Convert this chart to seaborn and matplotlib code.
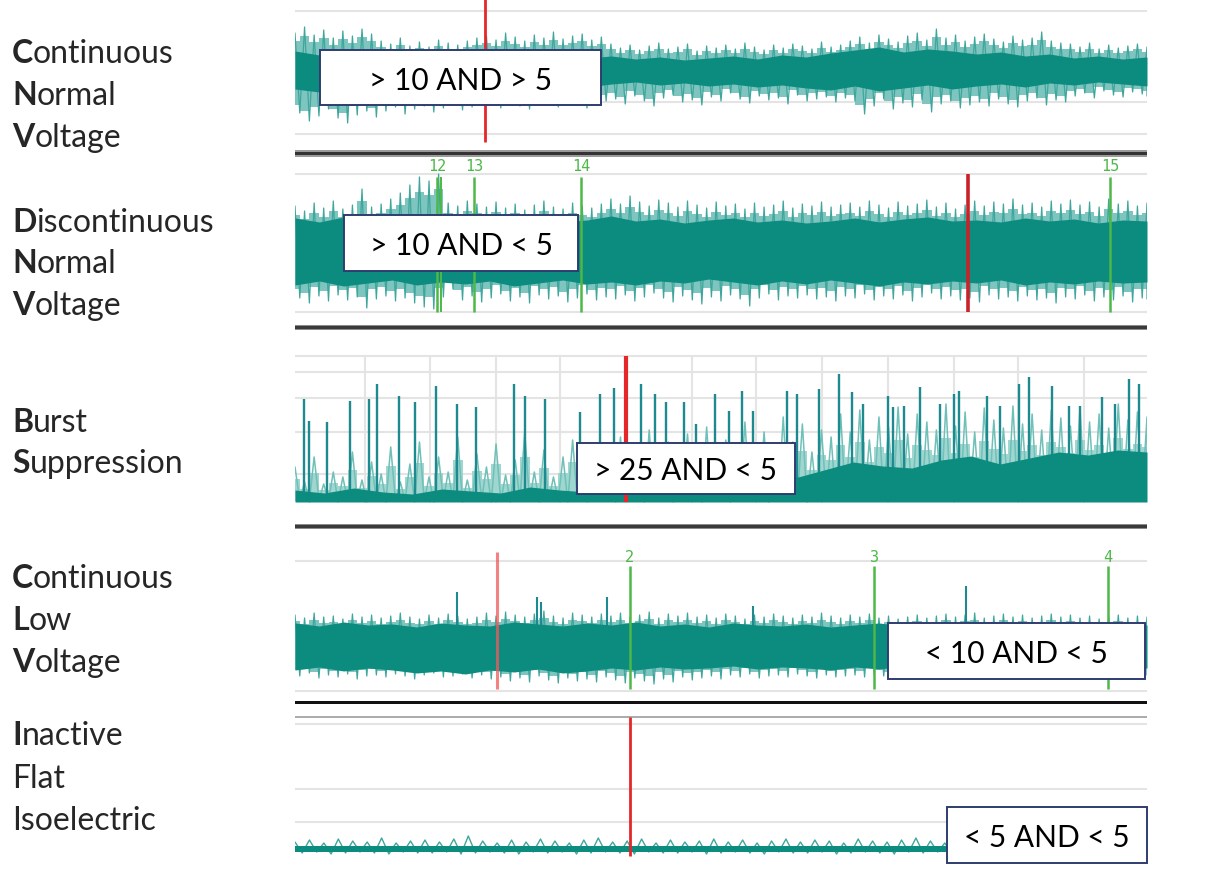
import numpy as np
import pandas as pd
import seaborn as sns
import matplotlib
matplotlib.use("Agg")
import matplotlib.pyplot as plt
from matplotlib.patches import Rectangle

sns.set_theme(style="white")
plt.rcParams['font.family'] = ['Lato', 'DejaVu Sans']

# ---------------------------------------------------------------- data
# x axis of every trace: percent of the displayed sweep (0..100)
# amplitudes: arbitrary units (approx. screen pixels) relative to trace centre

# Continuous Normal Voltage
cnv_upper = [38, 44, 36, 41, 33, 40, 35, 42, 37,
             30, 27, 33, 25, 29, 24, 31, 28, 26, 30, 33,
             35, 31, 38, 34, 30, 36, 33, 39, 32, 35, 37, 31, 34,
             27, 23, 26, 21, 25, 28, 22, 24, 27, 20, 25, 23, 26, 22, 28, 24, 21, 26, 23, 27, 25, 22, 29, 24, 26,
             30, 34, 28, 36, 32, 29, 35, 38, 31, 42, 33, 36, 30, 34, 37, 32, 29, 35, 31, 33, 39, 30, 28,
             27, 24, 28, 22, 26, 23, 25, 27, 24]
cnv_lower = [-42, -50, -45, -38, -47, -52, -44, -40, -46,
             -40, -36, -43, -38, -35, -41, -37, -33, -39, -36, -34,
             -33, -37, -30, -35, -38, -32, -29, -36, -34, -31, -37, -33, -30,
             -28, -33, -25, -30, -35, -27, -24, -31, -29, -34, -26, -30, -22, -28, -32, -25, -29, -27, -33, -24, -30, -28, -26, -31, -27,
             -30, -43, -35, -28, -38, -32, -36, -29, -41, -33, -30, -37, -34, -31, -35, -28, -33, -36, -30, -27, -34, -29, -31,
             -25, -22, -27, -20, -24, -26, -21, -23, -25]
cnv_core_up = [20, 16, 22, 17, 19, 15, 21, 18, 16, 19, 14, 17, 13, 15, 12, 14, 11, 13,
               15, 12, 16, 14, 18, 21, 24, 19, 22, 20, 17, 19, 15, 17, 13, 15, 12, 14]
cnv_core_lo = [-18, -21, -16, -19, -15, -17, -14, -18, -13, -16, -15, -12, -16, -13, -11, -14, -12, -15,
               -13, -16, -14, -17, -19, -15, -20, -17, -14, -18, -15, -13, -16, -12, -14, -11, -13, -15]

# Discontinuous Normal Voltage
dnv_upper = [45, 40, 48, 43, 50, 42, 46, 62, 44,
             47, 52, 58, 66, 74, 70, 77, 48, 45, 50, 47,
             44, 49, 43, 47, 41, 46, 50, 44, 42, 48, 45, 43, 47,
             52, 47, 55, 49, 45, 51, 48, 44, 50, 46, 43, 49, 45, 47, 42, 48, 44, 46, 50, 43, 47, 45, 49, 44, 46,
             48, 44, 50, 46, 43, 49, 45, 47, 51, 44, 48, 42, 46, 50, 45, 49, 47, 52, 46, 48, 44, 50, 47,
             51, 46, 49, 44, 52, 47, 50, 45, 48]
dnv_lower = [-47, -52, -45, -50, -44, -49, -46, -57, -48,
             -45, -50, -47, -52, -56, -58, -46, -38, -49, -45, -51,
             -47, -43, -50, -46, -52, -44, -48, -45, -51, -47, -43, -49, -46,
             -48, -44, -50, -46, -42, -47, -51, -45, -49, -53, -46, -50, -44, -48, -55, -47, -43, -49, -45, -47, -44, -48, -46, -50, -45,
             -47, -43, -49, -45, -48, -44, -50, -46, -42, -48, -45, -49, -47, -51, -44, -48, -46, -50, -45, -49, -47, -52, -46,
             -48, -44, -50, -46, -49, -45, -51, -47, -48]
dnv_core_up = [33, 29, 34, 30, 35, 31, 29, 33, 30, 34, 32, 29, 31, 35, 30, 32, 28, 31,
               33, 29, 31, 28, 30, 33, 29, 32, 34, 30, 31, 29, 33, 30, 32, 28, 31, 30]
dnv_core_lo = [-34, -30, -35, -32, -29, -34, -31, -33, -30, -35, -32, -29, -33, -31, -34, -30, -32, -28,
               -31, -34, -30, -33, -29, -32, -35, -31, -33, -30, -32, -29, -34, -31, -33, -30, -32, -31]

# Burst Suppression
bs_fringe_up = [35, 20, 45, 18, 30, 25, 50, 22, 40,
                28, 55, 20, 38, 60, 25, 45, 30, 65, 22, 48,
                35, 58, 27, 42, 70, 30, 52, 25, 45, 62, 33, 40, 55,
                38, 65, 30, 50, 72, 42, 60, 35, 68, 48, 75, 40, 62, 55, 80, 45, 70, 52, 85, 60, 78, 50, 72, 65, 88,
                70, 92, 62, 85, 75, 95, 68, 88, 80, 72, 98, 76, 90, 70, 94, 82, 74, 96, 78, 88, 72, 92, 84,
                76, 95, 80, 88, 74, 98, 82, 90, 85]
bs_floor = [1, 0, 2, 1, 0, 1, 2, 0, 1,
            0, 1, 2, 0, 1, 0, 2, 1, 0, 1, 2,
            0, 1, 0, 2, 1, 0, 1, 2, 0, 1, 0, 2, 1,
            0, 2, 1, 0, 1, 3, 0, 2, 1, 0, 3, 1, 0, 2, 4, 1, 0, 3, 1, 5, 0, 2, 4, 1, 3,
            5, 2, 6, 1, 4, 7, 2, 5, 3, 6, 1, 4, 7, 2, 5, 3, 6, 2, 4, 7, 3, 5, 2,
            6, 3, 5, 2, 7, 4, 3, 6, 4]
bs_core = [12, 9, 14, 10, 8, 13, 11, 9, 15, 12, 10, 14, 16, 20, 18, 22, 25, 24, 32, 40,
           36, 34, 42, 46, 38, 44, 50, 47, 52, 50]
bs_spike_pos = [1.0, 1.6, 3.8, 6.5, 8.7, 9.6, 12.2, 14.1, 16.5, 19.0, 21.3, 25.7, 27.0, 29.3,
                33.5, 35.8, 37.4, 40.6, 42.2, 43.5, 45.6, 47.1, 49.3, 50.9, 52.5, 53.8, 57.7,
                58.9, 61.5, 63.8, 65.4, 66.7, 69.6, 70.2, 71.5, 73.3, 75.7, 77.3, 77.9, 81.2,
                82.8, 85.0, 86.2, 88.9, 90.8, 92.1, 94.7, 96.3, 97.9, 99.1]
bs_spike_amp = [103, 81, 80, 101, 103, 118, 106, 100, 116, 98, 95, 118, 106, 103,
                90, 108, 114, 118, 108, 100, 100, 78, 108, 91, 111, 91, 111,
                108, 113, 128, 110, 98, 106, 95, 96, 115, 98, 108, 111, 106,
                96, 118, 125, 116, 96, 96, 105, 98, 123, 118]

# Continuous Low Voltage
clv_upper = [31, 28, 33, 29, 30, 27, 32, 29, 31,
             28, 30, 33, 29, 27, 31, 28, 32, 30, 27, 29,
             33, 30, 34, 31, 29, 32, 35, 30, 28, 33, 31, 29, 32,
             30, 33, 29, 31, 34, 28, 32, 30, 33, 29, 31, 28, 32, 30, 27, 31, 29, 32, 30, 28, 31, 29, 33, 30, 28,
             31, 29, 32, 28, 30, 27, 29, 31, 28, 30, 32, 29, 31, 33, 28, 30, 32, 29, 31, 28, 30, 32, 29,
             31, 28, 30, 27, 29, 31, 28, 30, 29]
clv_lower = [-30, -27, -32, -29, -31, -28, -33, -30, -29,
             -31, -28, -30, -33, -29, -27, -31, -30, -28, -32, -29,
             -33, -31, -35, -32, -36, -30, -34, -37, -32, -35, -33, -36, -31,
             -34, -37, -32, -35, -38, -33, -36, -31, -34, -32, -30, -33, -29, -31, -28, -32, -30, -29, -31, -28, -30, -32, -29, -31, -30,
             -29, -31, -28, -30, -32, -29, -31, -28, -30, -29, -31, -30, -28, -29, -31, -30, -28, -29, -30, -31, -29, -30, -28,
             -30, -29, -31, -28, -30, -29, -31, -30, -29]
clv_core_up = [23, 20, 24, 21, 22, 19, 23, 21, 20, 24, 22, 20, 23, 21, 24, 20, 22, 19,
               23, 21, 20, 22, 19, 21, 23, 20, 22, 21, 19, 22, 20, 23, 21, 20, 22, 21]
clv_core_lo = [-24, -21, -25, -22, -24, -27, -25, -28, -24, -26, -23, -27, -25, -22, -24, -21, -23, -22,
               -20, -23, -21, -22, -24, -21, -23, -20, -22, -21, -23, -20, -22, -21, -23, -22, -20, -22]
clv_spike_pos = [19.0, 28.4, 28.9, 36.6, 53.8, 78.7]
clv_spike_amp = [54, 49, 44, 49, 40, 60]

# Inactive / Flat / Isoelectric
ifi_upper = [7, 9, 6, 10, 8, 7, 11, 6, 8, 9, 7, 10, 13, 8, 6, 9, 7, 10, 8, 6,
             9, 11, 7, 8, 10, 6, 9, 7, 8, 10, 7, 9, 6, 8, 10, 7, 9, 8, 6, 10,
             8, 7, 9, 11, 8, 6, 9, 7, 10, 8, 7, 9, 6, 8, 7, 9, 8, 6, 7, 8]
ifi_lower = [-4, -3, -5, -4, -3, -4, -5, -3, -4, -4, -3, -5, -4, -3, -4, -5, -3, -4, -3, -5,
             -4, -3, -4, -5, -3, -4, -4, -3, -5, -4, -3, -4, -5, -3, -4, -4, -3, -5, -4, -3,
             -4, -5, -3, -4, -3, -5, -4, -3, -4, -4, -3, -5, -4, -3, -4, -5, -3, -4, -3, -4]

# event markers (percent of sweep)
dnv_marks = [16.7, 21.0, 33.6, 95.7]
dnv_mark_labels = ["12", "13", "14", "15"]
clv_marks = [39.3, 68.0, 95.4]
clv_mark_labels = ["2", "3", "4"]
red_events = [22.3, 79.0, 38.9, 23.7, 39.3]

state_labels = [
    [("C", "ontinuous"), ("N", "ormal"), ("V", "oltage")],
    [("D", "iscontinuous"), ("N", "ormal"), ("V", "oltage")],
    [("B", "urst"), ("S", "uppression")],
    [("C", "ontinuous"), ("L", "ow"), ("V", "oltage")],
    [("I", "nactive"), ("", "Flat"), ("", "Isoelectric")],
]
rule_texts = ["> 10 AND > 5", "> 10 AND < 5", "> 25 AND < 5", "< 10 AND < 5", "< 5 AND < 5"]

# ---------------------------------------------------------------- layout
W, H = 1221, 878
fig = plt.figure(figsize=(W / 100, H / 100), dpi=100)
fig.patch.set_facecolor("white")

CORE = "#0C8B7F"
FRINGE = "#3FA69D"
HALO = "#7DC5BE"
LIGHT = "#6FC0B8"
SPIKE = "#1C8A8E"
GRID = "#E4E4E4"
GREEN = "#4DB848"
RED = "#E5262A"


def fx(px):
    return px / W


def fy(py):
    return 1 - py / H


def panel(y0, y1, centre):
    ax = fig.add_axes([fx(295), fy(y1), fx(1147 - 295), (y1 - y0) / H])
    ax.set_xlim(0, 100)
    ax.set_ylim(centre - y1, centre - y0)
    ax.set_axis_off()
    return ax


def zigzag(ax, up, lo, color, lw=1.0, z=2):
    n = len(up)
    xs = np.linspace(0, 100, n)
    step = 100 / (n - 1)
    xl = np.clip(xs + step / 2, 0, 100)
    xz = np.empty(2 * n)
    yz = np.empty(2 * n)
    xz[0::2], xz[1::2] = xs, xl
    yz[0::2], yz[1::2] = up, lo
    df = pd.DataFrame({"t": xz, "v": yz})
    sns.lineplot(data=df, x="t", y="v", ax=ax, color=color, lw=lw,
                 sort=False, estimator=None, zorder=z)
    ax.set_xlabel("")
    ax.set_ylabel("")


def halo(ax, up, lo, color=HALO, k=0.8, z=1):
    # blocky light fringe between the outer peaks (step-wise, one block per sample)
    xs = np.linspace(0, 100, len(up))
    ax.fill_between(xs, np.array(up) * k, np.array(lo) * k, step="mid",
                    color=color, lw=0, zorder=z)


def core(ax, up, lo, color=CORE, z=3):
    xs = np.linspace(0, 100, len(up))
    ax.fill_between(xs, up, lo, color=color, lw=0, zorder=z)


def hgrid(ax, levels, color=GRID, lw=1.5):
    for v in levels:
        ax.axhline(v, color=color, lw=lw, zorder=0)


# panel 1 : CNV
ax1 = panel(0, 150, 72)
hgrid(ax1, [60, -31, -63])
halo(ax1, cnv_upper, cnv_lower)
zigzag(ax1, cnv_upper, cnv_lower, FRINGE, lw=0.9)
core(ax1, cnv_core_up, cnv_core_lo)
ax1.vlines(red_events[0], -71, 72, color=RED, lw=2, zorder=5)

# panel 2 : DNV
ax2 = panel(158, 326, 252)
hgrid(ax2, [77, -61])
halo(ax2, dnv_upper, dnv_lower)
zigzag(ax2, dnv_upper, dnv_lower, FRINGE, lw=0.9)
core(ax2, dnv_core_up, dnv_core_lo)
for m, lab in zip(dnv_marks, dnv_mark_labels):
    ax2.vlines(m, -61, 74, color=GREEN, lw=1.8, zorder=4)
    ax2.text(m, 85, lab, color=GREEN, fontsize=11, ha="center", va="center",
             family=["DejaVu Sans Mono", "DejaVu Sans"])
ax2.vlines(dnv_marks[0] + 0.45, -61, 74, color=GREEN, lw=1.4, zorder=4)
ax2.vlines(red_events[1], -61, 77, color="#C9232A", lw=2.6, zorder=5)

# panel 3 : BS
ax3 = panel(340, 520, 503)
hgrid(ax3, [146, 130, 104, 70, 28])
for v in [8.2, 15.9, 23.6, 31.1, 38.9, 46.6, 54.1, 61.9, 69.6, 77.3, 84.9, 92.6]:
    ax3.axvline(v, ymin=(0 - (-17)) / 180, ymax=(146 + 17) / 180, color=GRID, lw=1.5, zorder=0)
halo(ax3, bs_fringe_up, bs_floor, color="#9FD6D0", k=0.65)
zigzag(ax3, bs_fringe_up, bs_floor, LIGHT, lw=1.1)
ax3.vlines(bs_spike_pos, 0, bs_spike_amp, color=SPIKE, lw=1.7, zorder=3)
core(ax3, bs_core, [0] * len(bs_core))
ax3.vlines(red_events[2], 0, 146, color=RED, lw=3, zorder=5)

# panel 4 : CLV
ax4 = panel(545, 700, 647)
hgrid(ax4, [85, -45])
halo(ax4, clv_upper, clv_lower)
zigzag(ax4, clv_upper, clv_lower, FRINGE, lw=0.9)
ax4.vlines(clv_spike_pos, 0, clv_spike_amp, color=SPIKE, lw=1.5, zorder=2)
core(ax4, clv_core_up, clv_core_lo)
for m, lab in zip(clv_marks, clv_mark_labels):
    ax4.vlines(m, -43, 80, color=GREEN, lw=1.8, zorder=4)
    ax4.text(m, 90, lab, color=GREEN, fontsize=11, ha="center", va="center",
             family=["DejaVu Sans Mono", "DejaVu Sans"])
ax4.vlines(red_events[3], -43, 94, color="#F05A5A", lw=2.2, alpha=0.75, zorder=5)

# panel 5 : IFI
ax5 = panel(712, 870, 850)
hgrid(ax5, [125, 60, 27])
ax5.axhline(132, color="#9C9C9C", lw=1.2, zorder=0)
zigzag(ax5, ifi_upper, ifi_lower, FRINGE, lw=1.0)
core(ax5, [3] * 2, [-3] * 2)
ax5.vlines(red_events[4], -7, 132, color=RED, lw=2, zorder=5)

# separators between the panels
for y0, h, c in [(151, 7, "#9A9A9A"), (153, 3, "#333333"),
                 (326, 5, "#8A8A8A"), (327, 3, "#3A3A3A"),
                 (525, 5, "#8A8A8A"), (526, 3, "#3A3A3A"),
                 (702, 3, "#111111")]:
    fig.add_artist(Rectangle((fx(295), fy(y0 + h)), fx(1147 - 295), h / H,
                             transform=fig.transFigure, color=c, lw=0))

# rule boxes
boxes = [(320, 51, 601, 106), (344, 216, 578, 272), (577, 444, 795, 495),
         (888, 624, 1145, 680), (947, 808, 1147, 864)]
for (x0, y0, x1, y1), txt in zip(boxes, rule_texts):
    fig.add_artist(Rectangle((fx(x0), fy(y1)), fx(x1 - x0), (y1 - y0) / H,
                             transform=fig.transFigure, facecolor="white",
                             edgecolor="#2E3D70", lw=1.4, zorder=10))
    fig.text(fx((x0 + x1) / 2), fy((y0 + y1) / 2 + 2), txt, ha="center", va="center",
             fontsize=21.5, color="black", zorder=11)

# left labels
baselines = [[63, 105, 147], [232, 273, 315], [432, 473], [588, 630, 672], [745, 788, 830]]
renderer = fig.canvas.get_renderer()
for group, bls in zip(state_labels, baselines):
    for (b, rest), bl in zip(group, bls):
        x = 12
        if b:
            t = fig.text(fx(x), fy(bl), b, fontsize=23, fontweight="bold", va="baseline")
            x += t.get_window_extent(renderer).width
        fig.text(fx(x), fy(bl), rest, fontsize=23, va="baseline")

fig.savefig("out.png", dpi=100, facecolor="white")
